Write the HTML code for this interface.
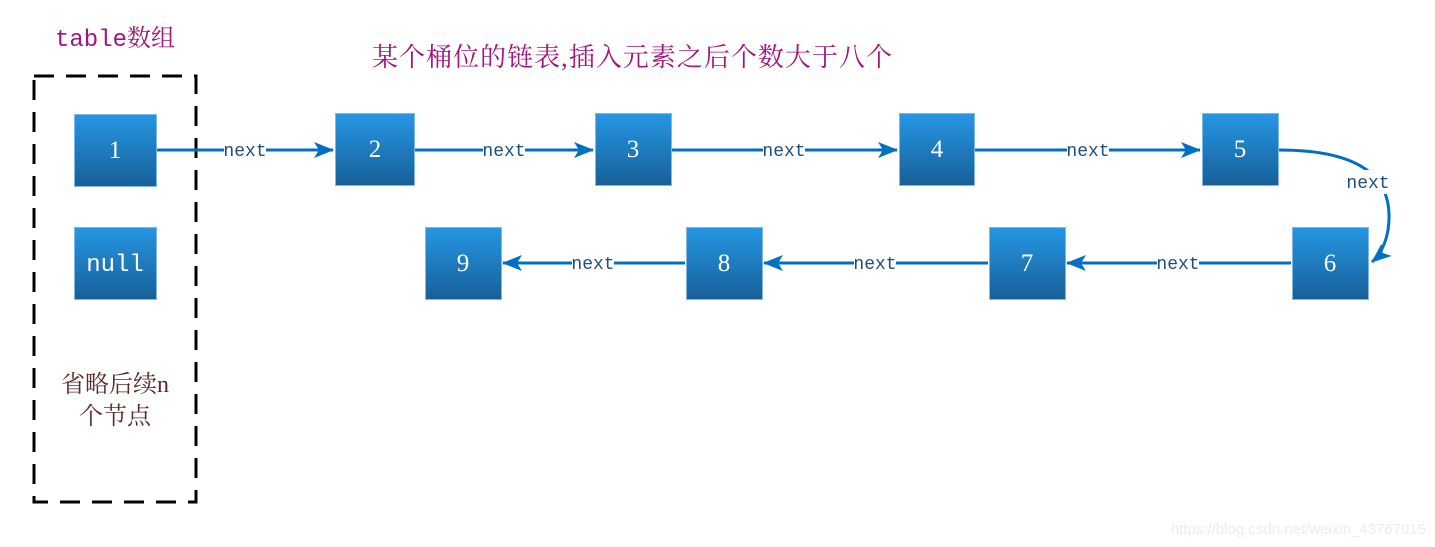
<!DOCTYPE html>
<html><head><meta charset="utf-8"><style>
html,body{margin:0;padding:0;background:#fff;width:1435px;height:547px;overflow:hidden}
svg{display:block}
.b{fill:url(#g);stroke:#7fb8e6;stroke-width:1}
.t{font-family:"Liberation Serif","Noto Serif CJK SC",serif;font-size:25px;fill:#fff;text-anchor:middle}
.n{font-family:"Liberation Mono",monospace;font-size:18px;fill:#1f4e79;text-anchor:middle}
.l{stroke:#0070c0;stroke-width:3;fill:none}
</style></head><body>
<svg width="1435" height="547" viewBox="0 0 1435 547">
<defs>
<linearGradient id="g" x1="0" y1="0" x2="0" y2="1"><stop offset="0" stop-color="#2597e3"/><stop offset="1" stop-color="#185f98"/></linearGradient>
<marker id="a" viewBox="0 0 20 16" refX="19" refY="8" markerWidth="20" markerHeight="16" markerUnits="userSpaceOnUse" orient="auto"><path d="M0,0 L20,8 L0,16 L5,8 Z" fill="#0070c0"/></marker>
</defs>
<rect x="34" y="76" width="162" height="426" fill="none" stroke="#000" stroke-width="3" stroke-dasharray="20,12"/>
<text x="115" y="46" font-size="24" fill="#a0157f" text-anchor="middle" style="font-family:'Liberation Mono','Noto Serif CJK SC',monospace">table数组</text>
<text x="632" y="66" font-family="'Liberation Serif','Noto Serif CJK SC',serif" font-size="26" fill="#a0157f" text-anchor="middle" textLength="520">某个桶位的链表,插入元素之后个数大于八个</text>
<text x="115" y="392" font-family="'Liberation Serif','Noto Serif CJK SC',serif" font-size="24" fill="#5a2a2a" text-anchor="middle">省略后续n</text>
<text x="115" y="424" font-family="'Liberation Serif','Noto Serif CJK SC',serif" font-size="24" fill="#5a2a2a" text-anchor="middle">个节点</text>

<line class="l" x1="157" y1="150" x2="333" y2="150" marker-end="url(#a)"/>
<line class="l" x1="415" y1="150" x2="593" y2="150" marker-end="url(#a)"/>
<line class="l" x1="672" y1="150" x2="897" y2="150" marker-end="url(#a)"/>
<line class="l" x1="975" y1="150" x2="1200" y2="150" marker-end="url(#a)"/>
<path class="l" d="M1279,150 Q1400,150 1388,230 Q1384,252 1372,262" marker-end="url(#a)"/>
<line class="l" x1="1291" y1="263" x2="1067" y2="263" marker-end="url(#a)"/>
<line class="l" x1="988" y1="263" x2="764" y2="263" marker-end="url(#a)"/>
<line class="l" x1="685" y1="263" x2="503" y2="263" marker-end="url(#a)"/>

<rect x="224" y="140" width="42" height="20" fill="#fff"/><text class="n" x="245" y="156">next</text>
<rect x="483" y="140" width="42" height="20" fill="#fff"/><text class="n" x="504" y="156">next</text>
<rect x="763" y="140" width="42" height="20" fill="#fff"/><text class="n" x="784" y="156">next</text>
<rect x="1067" y="140" width="42" height="20" fill="#fff"/><text class="n" x="1088" y="156">next</text>
<rect x="1346" y="170" width="44" height="24" fill="#fff"/><text class="n" x="1368" y="188">next</text>
<rect x="1157" y="253" width="42" height="20" fill="#fff"/><text class="n" x="1178" y="269">next</text>
<rect x="854" y="253" width="42" height="20" fill="#fff"/><text class="n" x="875" y="269">next</text>
<rect x="572" y="253" width="42" height="20" fill="#fff"/><text class="n" x="593" y="269">next</text>

<rect class="b" x="74.5" y="114.5" width="82" height="72"/><text class="t" x="115" y="158">1</text>
<rect class="b" x="74.5" y="227.5" width="82" height="72"/><text x="115" y="271" font-family="'Liberation Mono',monospace" font-size="24" fill="#fff" text-anchor="middle">null</text>
<rect class="b" x="335.5" y="113.5" width="79" height="72"/><text class="t" x="375" y="157">2</text>
<rect class="b" x="595.5" y="113.5" width="76" height="72"/><text class="t" x="633" y="157">3</text>
<rect class="b" x="899.5" y="113.5" width="75" height="72"/><text class="t" x="937" y="157">4</text>
<rect class="b" x="1202.5" y="113.5" width="76" height="72"/><text class="t" x="1240" y="157">5</text>
<rect class="b" x="1292.5" y="227.5" width="76" height="72"/><text class="t" x="1330" y="271">6</text>
<rect class="b" x="989.5" y="227.5" width="76" height="72"/><text class="t" x="1027" y="271">7</text>
<rect class="b" x="686.5" y="227.5" width="76" height="72"/><text class="t" x="724" y="271">8</text>
<rect class="b" x="425.5" y="227.5" width="76" height="72"/><text class="t" x="463" y="271">9</text>

<text x="1426" y="534" font-family="'Liberation Sans',sans-serif" font-size="15" fill="#ececec" text-anchor="end">https://blog.csdn.net/weixin_43767015</text>
</svg>
</body></html>
